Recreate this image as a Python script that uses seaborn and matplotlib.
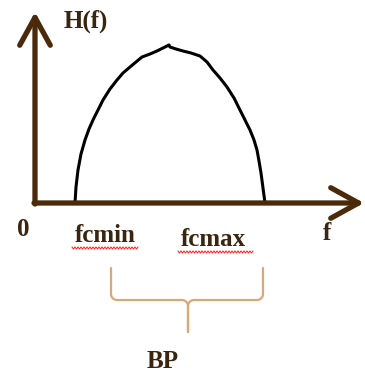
import numpy as np
import matplotlib
matplotlib.use("Agg")
import matplotlib.pyplot as plt
import seaborn as sns

# frequency response sketch (units: f to the right, H up, origin at axes corner)
f_curve = [40, 41, 43, 46, 50, 54, 58, 63, 68, 75, 82, 88, 95, 101, 107, 115, 122, 128, 134,
           135, 141, 148, 156, 165, 172, 178, 185, 192, 199, 205, 210, 215, 219, 222, 224, 226, 228, 230]
h_curve = [0, 16, 33, 49, 63, 74, 83, 93, 103, 114, 123, 130, 136, 141, 146, 149, 152, 155, 158,
           156, 154, 152, 150, 147, 141, 133, 125, 116, 105, 93, 83, 73, 63, 53, 42, 30, 15, 0]

f_axis_end = 329
h_axis_end = 191

# labels: text, x, y
labels = ["H(f)", "0", "fcmin", "fcmax", "f", "BP"]
label_x = [51, -12, 70, 178, 292, 128]
label_y = [182, -27, -33, -37, -30, -159]
underline_x = [(37, 103), (143, 218)]
underline_y = [-45, -49]

# brace under the pass band
brace_left, brace_right, brace_mid = 76, 228, 153
brace_top, brace_bar, brace_tip = -65, -97, -129

axis_color = "#4a2a0a"
text_color = "#3a2510"
brace_color = "#d9a878"


def brace_half(x_end, sign):
  # rounded corner at the outer end and at the middle point
  r = 6
  u = np.linspace(0, np.pi / 2, 8)
  xs = [x_end]
  ys = [brace_top]
  xs += list(x_end + sign * r - sign * r * np.cos(u))
  ys += list(brace_bar + r - r * np.sin(u))
  xs += list(brace_mid - sign * r + sign * r * np.sin(u))
  ys += list(brace_bar - r + r * np.cos(u))
  xs.append(brace_mid)
  ys.append(brace_tip)
  return xs, ys


def main():
  sns.set_style("white")
  fig = plt.figure(figsize=(3.65, 3.76), dpi=100)
  ax = fig.add_axes([0, 0, 1, 1])
  ax.set_xlim(-35, 330)
  ax.set_ylim(-173, 203)
  ax.axis("off")

  sns.lineplot(x=f_curve, y=h_curve, sort=False, color="black", lw=2.2, ax=ax)

  arrow = dict(arrowstyle="->,head_length=0.4,head_width=0.22", color=axis_color,
               lw=3.8, shrinkA=0, shrinkB=0, mutation_scale=50,
               capstyle="round", joinstyle="round")
  ax.annotate("", xy=(f_axis_end, 0), xytext=(-1, 0), arrowprops=arrow)
  ax.annotate("", xy=(0, h_axis_end), xytext=(0, -1), arrowprops=arrow)

  for t, x, y in zip(labels, label_x, label_y):
    ax.text(x, y, t, ha="center", va="center", fontsize=18, fontweight="bold",
            family=["Liberation Serif", "DejaVu Serif"], color=text_color)

  # red spell-check squiggle
  for (x0, x1), y in zip(underline_x, underline_y):
    xs = np.arange(x0, x1 + 0.1, 1.5)
    ys = y + np.where(np.arange(len(xs)) % 2 == 0, 1.0, -1.0)
    ax.plot(xs, ys, color="#ff2a2a", lw=0.8)

  for x_end, sign in [(brace_left, 1), (brace_right, -1)]:
    xs, ys = brace_half(x_end, sign)
    ax.plot(xs, ys, color=brace_color, lw=1.6, solid_capstyle="round")

  fig.savefig("out.png", dpi=100)


if __name__ == "__main__":
  main()
